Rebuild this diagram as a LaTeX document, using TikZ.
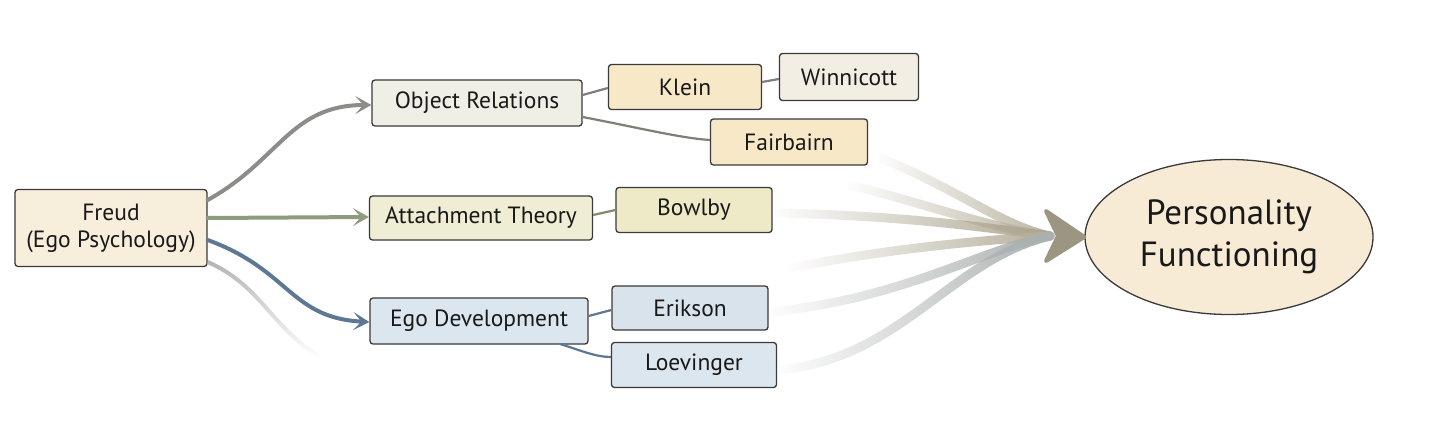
\documentclass[tikz,border=0pt]{standalone}
\usepackage{fontspec}
\setmainfont{PT Sans}
\usetikzlibrary{arrows.meta,fadings,shapes.geometric}
\tikzfading[name=fadeinright, left color=transparent!100, right color=transparent!0]
\tikzfading[name=fadedown, top color=transparent!15, bottom color=transparent!100]
\definecolor{cFreud}{HTML}{F7EEDC}
\definecolor{cObj}{HTML}{EFEFE6}
\definecolor{cKlein}{HTML}{F7E8C8}
\definecolor{cWinn}{HTML}{F3EEE4}
\definecolor{cAtt}{HTML}{EFEDD3}
\definecolor{cBow}{HTML}{EEEAC8}
\definecolor{cEgo}{HTML}{DCE6EE}
\definecolor{cEri}{HTML}{D8E3EB}
\definecolor{cEll}{HTML}{F7EBD5}
\definecolor{aGray}{HTML}{8C8C88}
\definecolor{aGreen}{HTML}{8E9C7E}
\definecolor{aBlue}{HTML}{5E7894}
\definecolor{lGray}{HTML}{7F7F78}
\definecolor{lGreen}{HTML}{858A6C}
\definecolor{lBlue}{HTML}{5F7790}
\definecolor{tan}{HTML}{ADA690}
\definecolor{bluegray}{HTML}{A9B8C6}
\definecolor{edge}{HTML}{3A3A3A}
\tikzset{
  box/.style={draw=edge, line width=1.3pt, rounded corners=3pt, inner sep=0pt, align=center,
    font=\fontsize{23.5}{27}\selectfont, text=black!90},
  flow/.style={line width=4pt, line cap=round, -{Stealth[length=16pt,width=18pt,inset=8pt]}},
  link/.style={line width=2.2pt},
  merge/.style={line width=9pt, line cap=round, path fading=fadeinright}
}
\begin{document}
\begin{tikzpicture}[x=1pt,y=-1pt]
\useasboundingbox (0,0) rectangle (1439,420);
\fill[white] (0,0) rectangle (1439,420);

% nodes
\node[box, fill=cFreud, minimum width=192pt, minimum height=77pt] (freud) at (111,228) {Freud\\(Ego Psychology)};
\node[box, fill=cObj, minimum width=210pt, minimum height=46pt] (obj) at (477,103) {Object Relations};
\node[box, fill=cKlein, minimum width=153pt, minimum height=45pt] (klein) at (685,87) {Klein};
\node[box, fill=cWinn, minimum width=139pt, minimum height=47pt] (winn) at (849,77) {Winnicott};
\node[box, fill=cKlein, minimum width=157pt, minimum height=46pt] (fair) at (789,142) {Fairbairn};
\node[box, fill=cAtt, minimum width=223pt, minimum height=44pt] (att) at (481,218) {Attachment Theory};
\node[box, fill=cBow, minimum width=156pt, minimum height=45pt] (bow) at (694,210) {Bowlby};
\node[box, fill=cEgo, minimum width=218pt, minimum height=46pt] (ego) at (479,321) {Ego Development};
\node[box, fill=cEri, minimum width=156pt, minimum height=44pt] (eri) at (690,308) {Erikson};
\node[box, fill=cEgo, minimum width=165pt, minimum height=45pt] (loe) at (694,365) {Loevinger};
\node[ellipse, draw=edge, line width=1.3pt, fill=cEll, minimum width=288pt, minimum height=155pt,
      inner sep=0pt, align=center, font=\fontsize{35}{42}\selectfont, text=black!90] (pf) at (1229,237) {Personality\\Functioning};

% links between boxes
\draw[link, lGray] (obj.east |- 0,95) -- (klein.west |- 0,88);
\draw[link, lGray] (obj.east |- 0,117) .. controls (640,128) and (680,138) .. (fair.west |- 0,140);
\draw[link, lGray] (klein.east |- 0,82) -- (winn.west |- 0,79);
\draw[link, lGreen] (att.east |- 0,215) -- (bow.west |- 0,210);
\draw[link, lBlue] (ego.east |- 0,316) -- (eri.west |- 0,310);
\coordinate (egob) at (560,344);
\draw[link, lBlue] (egob) .. controls (580,350) and (595,357) .. (loe.west |- 0,357);

% Freud arrows
\draw[flow, aGray] (freud.east |- 0,200) .. controls (280,160) and (290,105) .. (obj.west |- 0,105);
\draw[flow, aGreen] (freud.east |- 0,218) -- (att.west |- 0,217);
\draw[flow, aBlue] (freud.east |- 0,240) .. controls (290,270) and (290,318) .. (ego.west |- 0,322);
\coordinate (fade1) at (318,356);
\draw[line width=4pt, gray!70, path fading=fadedown] (freud.east |- 0,262) .. controls (260,285) and (270,325) .. (fade1);

% converging strokes
\coordinate (tip) at (1050,236);
\coordinate (s1) at (880,158);
\coordinate (s2) at (850,185);
\coordinate (s4) at (790,268);
\draw[merge, tan!85] (s1) .. controls (960,190) and (1000,225) .. (tip);
\draw[merge, tan!85] (s2) .. controls (930,205) and (990,228) .. (tip);
\draw[merge, tan] (bow.east |- 0,213) .. controls (900,215) and (990,228) .. (tip);
\draw[merge, tan!90] (s4) .. controls (880,250) and (980,240) .. (tip);
\draw[merge, bluegray!60!tan] (eri.east |- 0,312) .. controls (900,300) and (980,250) .. (tip);
\draw[merge, bluegray!60!tan] (loe.east |- 0,370) .. controls (900,360) and (950,260) .. (tip);
\draw[tan!90!black, line width=4pt, line join=round, fill=tan!90!black]
  (1046,211) -- (pf.west) -- (1046,261) -- (1058,236) -- cycle;
\end{tikzpicture}
\end{document}
